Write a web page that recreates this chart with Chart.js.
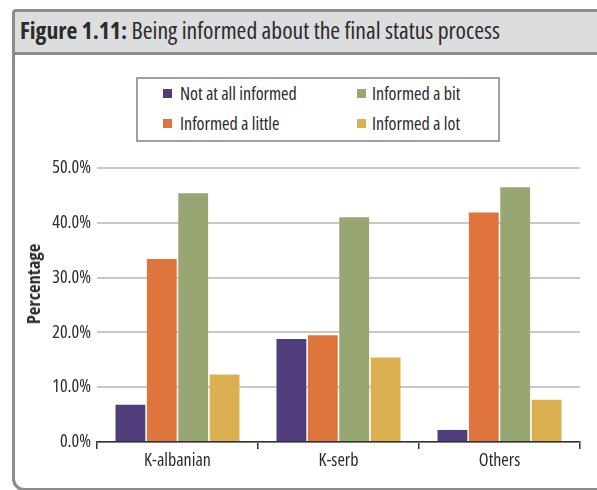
<!DOCTYPE html>
<html>
<head>
<meta charset="utf-8">
<script src="https://cdn.jsdelivr.net/npm/chart.js@4.4.0/dist/chart.umd.min.js"></script>
<style>
  html, body { margin: 0; padding: 0; background: #fff; }
  body { width: 597px; height: 490px; position: relative; overflow: hidden;
         font-family: "Open Sans", sans-serif; font-stretch: condensed; color: #2b2b2b; }
  #frame { position: absolute; left: 12px; top: 9px; width: 590px; height: 476px;
           border: 3px solid #8c8c90; border-radius: 12px; box-sizing: content-box; }
  #titlebar { position: absolute; left: 12px; top: 9px; width: 593px; height: 40px;
              background: #dcdddf; border-top: 3px solid #8c8c90; border-bottom: 3px solid #8c8c90;
              border-left: 3px solid #8c8c90; border-top-left-radius: 4px; }
  #title { position: absolute; left: 20px; top: 16px; font-size: 23.7px; line-height: 28px; white-space: nowrap; }
  #title b { font-weight: bold; }
  #legend { position: absolute; left: 136px; top: 77px; width: 360px; height: 61px;
            border: 2px solid #a0a0a0; }
  .item { position: absolute; font-size: 18px; line-height: 22px; white-space: nowrap; }
  .swatch { position: absolute; width: 9px; height: 9px; }
  #ytitle { position: absolute; left: 33px; top: 284px; font-size: 18.5px; font-weight: bold;
            line-height: 20px; white-space: nowrap; transform: translate(-50%, -50%) rotate(-90deg); }
  canvas { position: absolute; left: 0; top: 0; }
</style>
</head>
<body>
<div id="frame"></div>
<div id="titlebar"></div>
<div id="title"><b>Figure 1.11:</b> Being informed about the final status process</div>
<div id="legend"></div>
<canvas id="chart" width="597" height="490"></canvas>
<div id="ytitle">Percentage</div>
<script>
var categories = ['K-albanian', 'K-serb', 'Others'];
var seriesNames = ['Not at all informed', 'Informed a little', 'Informed a bit', 'Informed a lot'];
var notAtAll = [6.8, 18.8, 2.2];
var aLittle = [33.4, 19.5, 41.9];
var aBit = [45.4, 41.0, 46.5];
var aLot = [12.3, 15.4, 7.7];
var colors = ['#4f3e7b', '#df753d', '#97a673', '#dbb050'];

var values = [notAtAll, aLittle, aBit, aLot];

// legend, two columns, filled top to bottom
var legend = document.getElementById('legend');
seriesNames.forEach(function (name, i) {
    var col = Math.floor(i / 2), row = i % 2;
    var sw = document.createElement('div');
    sw.className = 'swatch';
    sw.style.background = colors[i];
    sw.style.left = (25 + col * 194) + 'px';
    sw.style.top = (10 + row * 30) + 'px';
    legend.appendChild(sw);
    var t = document.createElement('div');
    t.className = 'item';
    t.textContent = name;
    t.style.left = (42 + col * 192) + 'px';
    t.style.top = (3 + row * 30) + 'px';
    legend.appendChild(t);
});

var family = "'Open Sans', sans-serif";
// "condensed" rides along in the weight slot of the canvas font string
var tickFont = { family: family, size: 18, weight: 'condensed' };

new Chart(document.getElementById('chart').getContext('2d'), {
    type: 'bar',
    data: {
        labels: categories,
        datasets: seriesNames.map(function (name, i) {
            return {
                label: name,
                data: values[i],
                backgroundColor: colors[i],
                borderWidth: 0,
                categoryPercentage: 0.78,
                barPercentage: 0.95
            };
        })
    },
    options: {
        responsive: false,
        animation: false,
        layout: { padding: { left: 0, top: 168, right: 17, bottom: 0 } },
        plugins: { legend: { display: false }, tooltip: { enabled: false } },
        scales: {
            x: {
                grid: { display: true, offset: true, drawOnChartArea: false, drawTicks: true,
                        tickLength: 7, color: '#333', lineWidth: 1.5 },
                border: { display: true, color: '#333', width: 1.5 },
                ticks: { color: '#2b2b2b', font: tickFont, padding: 1 },
                afterFit: function (s) { s.height = 48; }
            },
            y: {
                min: 0,
                max: 50,
                ticks: {
                    stepSize: 10,
                    color: '#2b2b2b',
                    padding: 6,
                    font: tickFont,
                    callback: function (v) { return v.toFixed(1) + '%'; }
                },
                grid: { color: '#c8c8c8', lineWidth: 2, drawTicks: false },
                border: { display: false },
                afterFit: function (s) { s.width = 97; }
            }
        }
    }
});
</script>
</body>
</html>
